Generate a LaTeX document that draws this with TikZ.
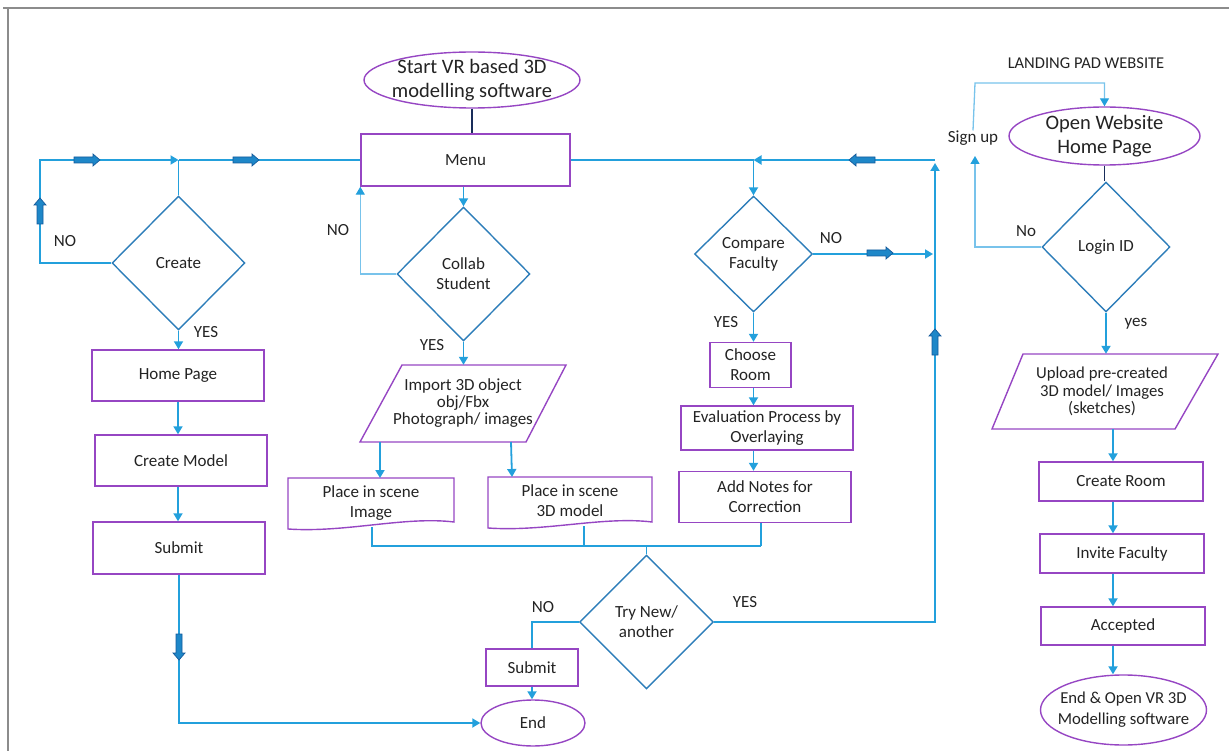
\documentclass[tikz,border=0pt]{standalone}
\usepackage{fontspec}
\setmainfont{Carlito}
\usetikzlibrary{shapes.geometric,arrows.meta,calc}
\definecolor{conn}{RGB}{35,160,220}
\definecolor{connlt}{RGB}{120,195,235}
\definecolor{dia}{RGB}{45,125,185}
\definecolor{purp}{RGB}{150,70,195}
\definecolor{navy}{RGB}{25,45,90}
\definecolor{blk}{RGB}{30,135,200}
\definecolor{blkd}{RGB}{20,90,155}
\definecolor{frame}{RGB}{140,140,140}
\definecolor{ink}{RGB}{35,35,35}
\tikzset{
  txt/.style={font=\fontsize{17}{20}\selectfont, align=center, text=ink},
  box/.style={txt, draw=purp, line width=1.4pt, rectangle, inner sep=0pt},
  dec/.style={txt, draw=dia, line width=1.4pt, diamond, aspect=1, inner sep=0pt},
  term/.style={txt, draw=purp, line width=1.4pt, ellipse, inner sep=0pt},
  plain/.style={txt, inner sep=0pt},
  lbl/.style={font=\fontsize{17}{19}\selectfont, text=ink, inner sep=0pt},
  wire/.style={draw=conn, line width=1.8pt},
  arr/.style={wire, -{Triangle[length=8pt,width=9pt]}},
  thinw/.style={draw=connlt, line width=1.3pt},
  thinarr/.style={thinw, -{Triangle[length=8pt,width=9pt,color=conn]}},
  shapeline/.style={draw=purp, line width=1.4pt},
  blockarrow/.pic={
    \filldraw[fill=blk, draw=blkd, line width=0.7pt]
      (-13,-3) -- (6,-3) -- (6,-6) -- (13,0) -- (6,6) -- (6,3) -- (-13,3) -- cycle;
  },
}
\begin{document}
\begin{tikzpicture}[x=1pt,y=-1pt]
\useasboundingbox (0,0) rectangle (1229,751);
% frame
\draw[frame, line width=2pt] (3,8) -- (1229,8);
\draw[frame, line width=2pt] (8,8) -- (8,751);

% ---------- main column nodes ----------
\node[term, minimum width=216pt, minimum height=56pt, inner ysep=-5pt, inner xsep=-6pt, font=\fontsize{20.5}{24}\selectfont] (start) at (472,80) {Start VR based 3D\\modelling software};
\node[box, minimum width=209pt, minimum height=52pt] (menu) at (465.5,160) {Menu};
\draw[navy, line width=1.8pt] (start.south) -- (start.south |- menu.north);

% left branch
\node[dec, minimum width=133pt, minimum height=134pt] (create) at (178.5,263) {Create};
\node[box, minimum width=172pt, minimum height=51pt] (home) at (178,375.5) {Home Page};
\node[box, minimum width=172pt, minimum height=51pt] (cmodel) at (181,460.5) {Create Model};
\node[box, minimum width=172pt, minimum height=52pt] (submitA) at (179,548) {Submit};

% collab branch
\node[dec, minimum width=133pt, minimum height=134pt] (collab) at (463.5,274) {Collab\\Student};
\node[plain, minimum width=164pt, minimum height=77pt, font=\fontsize{17}{17}\selectfont] (imp) at (463,403.5) {Import 3D object\\obj/Fbx\\Photograph/ images};
\draw[shapeline] (402,365) -- (566,365) -- (526,442) -- (360,442) -- cycle;
\node[plain, minimum width=166pt, minimum height=48pt] (pisA) at (371,503) {Place in scene\\Image};
\draw[shapeline] (288,478) -- (454,478) -- (454,522) .. controls (405,516) and (345,533) .. (288,529) -- cycle;
\node[plain, minimum width=164pt, minimum height=48pt] (pisB) at (570,501) {Place in scene\\3D model};
\draw[shapeline] (488,477) -- (652,477) -- (652,522) .. controls (603,516) and (545,532) .. (488,528) -- cycle;

% compare branch
\node[dec, minimum width=118pt, minimum height=116pt] (compare) at (753.5,254) {Compare\\Faculty};
\node[box, minimum width=81pt, minimum height=45pt] (choose) at (750.5,365) {Choose\\Room};
\node[box, minimum width=172pt, minimum height=44pt] (eval) at (767,428) {Evaluation Process by\\Overlaying};
\node[box, minimum width=172pt, minimum height=51pt] (addn) at (765,497) {Add Notes for\\Correction};

% try / end
\node[dec, minimum width=134pt, minimum height=134pt] (try) at (646.5,622) {Try New/\\another};
\node[box, minimum width=92pt, minimum height=37pt] (submitB) at (532,667.5) {Submit};
\node[term, minimum width=104pt, minimum height=46pt] (endA) at (533,723) {End};

% ---------- right column ----------
\node[txt, font=\fontsize{16.5}{18}\selectfont, inner sep=0pt] (landing) at (1086,63) {LANDING PAD WEBSITE};
\node[term, minimum width=191pt, minimum height=58pt, inner ysep=-5pt, font=\fontsize{20.5}{24}\selectfont] (ow) at (1104.5,136) {Open Website\\Home Page};
\node[lbl] (signup) at (973,138) {Sign up};
\node[dec, minimum width=128pt, minimum height=130pt] (login) at (1106,247) {Login ID};
\node[plain, minimum width=160pt, minimum height=75pt, font=\fontsize{16.7}{17.5}\selectfont] (upl) at (1102,391.5) {Upload pre-created\\3D model/ Images\\(sketches)};
\draw[shapeline] (1023,354) -- (1218,354) -- (1175,429) -- (992,429) -- cycle;
\node[box, minimum width=164pt, minimum height=39pt] (croom) at (1121,481.5) {Create Room};
\node[box, minimum width=164pt, minimum height=39pt] (invite) at (1122,553.5) {Invite Faculty};
\node[box, minimum width=164pt, minimum height=38pt] (acc) at (1123,626) {Accepted};
\node[term, minimum width=166pt, minimum height=70pt, font=\fontsize{16.7}{21}\selectfont, inner xsep=-12pt, inner ysep=-2pt] (endB) at (1123.5,710) {End \& Open VR 3D\\Modelling software};

% ---------- coordinates ----------
\coordinate (cL) at (40,160);
\coordinate (jA) at (178.5,160);
\coordinate (jB) at (753.5,160);
\coordinate (jC) at (935,160);
\coordinate (mA) at (372,546);
\coordinate (mB) at (761,546);
\coordinate (mT) at (646.5,546);
\coordinate (rx) at (1113,0);
\coordinate (su) at (975,83);
\coordinate (sus) at (975,156);

% ---------- connectors: left ----------
\draw[arr] (create.west) -| (cL) -- (jA);
\draw[wire] (create.north) -- (jA);
\draw[wire] (jA) -- (menu.west);
\draw[arr] (create.south) -- (create.south |- home.north);
\draw[arr] (home.south) -- (home.south |- cmodel.north);
\draw[arr] (home.south |- cmodel.south) -- (home.south |- submitA.north);
\draw[arr] (submitA.south) |- (endA.west);

% ---------- connectors: collab ----------
\draw[arr] (menu.south -| collab.north) -- (collab.north);
\draw[thinarr] (collab.west) -| (menu.south west);
\draw[arr] (collab.south) -- (collab.south |- imp.north);
\draw[arr] (380,442) -- (380,478);
\draw[arr] (511,442) -- (512,477);
\draw[wire] (pisA.south -| mA) -- (mA) -- (mB);
\draw[wire] (584,526) -- (584,546);
\draw[wire] (addn.south -| mB) -- (mB);
\draw[wire] (mT) -- (try.north);

% ---------- connectors: compare ----------
\draw[wire] (menu.east) -- (jB);
\draw[arr] (jC) -- (jB);
\draw[arr] (jB) -- (compare.north);
\draw[arr] (compare.east) -- ($(compare.east -| jC)+(-2,0)$);
\draw[arr] (compare.south) -- (compare.south |- choose.north);
\draw[arr] (choose.south -| compare.south) -- (eval.north -| compare.south);
\draw[arr] (eval.south -| compare.south) -- (addn.north -| compare.south);

% ---------- connectors: try ----------
\draw[arr] (try.east) -| ($(jC)+(0,3)$);
\draw[wire] (try.west) -| (submitB.north);
\draw[arr] (submitB.south) -- (submitB.south |- endA.north);

% ---------- connectors: right ----------
\draw[thinarr] (signup.north) -- (su) -| (ow.north);
\draw[navy, line width=1.8pt] (ow.south) -- (ow.south |- login.north);
\draw[thinarr] (login.west) -| (sus);
\draw[arr] (login.south) -- (login.south |- upl.north);
\draw[arr] (upl.south -| rx) -- (croom.north -| rx);
\draw[arr] (croom.south -| rx) -- (invite.north -| rx);
\draw[arr] (invite.south -| rx) -- (acc.north -| rx);
\draw[arr] (acc.south -| rx) -- (endB.north -| rx);

% ---------- block arrows ----------
\pic at (87,160) {blockarrow};
\pic at (246,160) {blockarrow};
\pic[rotate=90] at (40,211) {blockarrow};
\pic[rotate=180] at (862,160) {blockarrow};
\pic at (880,253) {blockarrow};
\pic[rotate=90] at (935,342) {blockarrow};
\pic[rotate=-90] at (179,647) {blockarrow};

% ---------- labels ----------
\node[lbl] (lnoA) at (65,241) {NO};
\node[lbl] (lyesA) at (206,332) {YES};
\node[lbl] (lnoB) at (338,230) {NO};
\node[lbl] (lyesB) at (432,345) {YES};
\node[lbl] (lnoC) at (831,238) {NO};
\node[lbl] (lyesC) at (726,322) {YES};
\node[lbl] (lnoD) at (543,607) {NO};
\node[lbl] (lyesD) at (745,602) {YES};
\node[lbl] (lnoE) at (1026,231) {No};
\node[lbl] (lyesE) at (1136,324) {yes};
\end{tikzpicture}
\end{document}
